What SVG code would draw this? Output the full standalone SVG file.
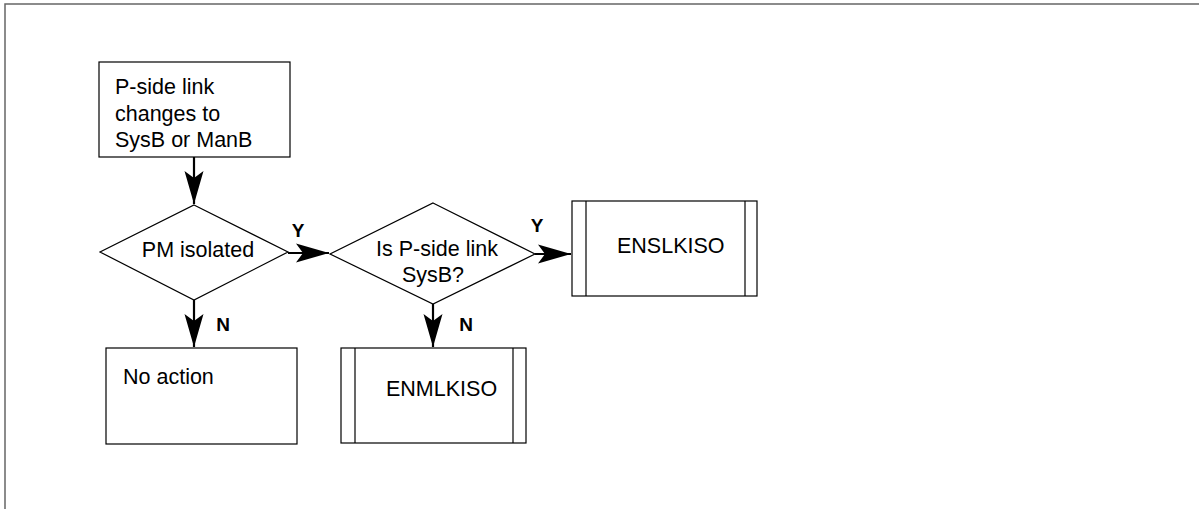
<svg xmlns="http://www.w3.org/2000/svg" width="1199" height="509" viewBox="0 0 1199 509">
<style>
  .box{fill:#fff;stroke:#000;stroke-width:1.2}
  .t{font-family:"Liberation Sans",Arial,sans-serif;font-size:21.5px;fill:#000}
  .lbl{font-family:"Liberation Sans",Arial,sans-serif;font-size:19px;font-weight:bold;fill:#000}
  .conn{stroke:#000;stroke-width:2.2;fill:none}
  .frame{stroke:#666;stroke-width:1.5;fill:none}
</style>
<defs>
  <marker id="ah" markerUnits="userSpaceOnUse" viewBox="-36 -11 38 22" refX="0" refY="0" markerWidth="38" markerHeight="22" orient="auto">
    <path d="M0,0 L-33,-9.5 L-26,0 L-33,9.5 Z" fill="#000"/>
  </marker>
</defs>
<rect width="1199" height="509" fill="#fff"/>
<path class="frame" d="M5,509 V4 H1199"/>
<g id="connectors">
  <path class="conn" d="M194,157 V204" marker-end="url(#ah)"/>
  <path class="conn" d="M288,253 H329" marker-end="url(#ah)"/>
  <path class="conn" d="M535,254 H571" marker-end="url(#ah)"/>
  <path class="conn" d="M194,300 V347" marker-end="url(#ah)"/>
  <path class="conn" d="M433,304 V347" marker-end="url(#ah)"/>
  <text class="lbl" x="298" y="237" text-anchor="middle">Y</text>
  <text class="lbl" x="537" y="232" text-anchor="middle">Y</text>
  <text class="lbl" x="223" y="331" text-anchor="middle">N</text>
  <text class="lbl" x="466" y="331" text-anchor="middle">N</text>
</g>
<g id="start">
  <rect class="box" x="99" y="62" width="191" height="95"/>
  <text class="t" x="115" y="94">P-side link</text>
  <text class="t" x="115" y="120.5">changes to</text>
  <text class="t" x="115" y="147">SysB or ManB</text>
</g>
<g id="pm-isolated">
  <polygon class="box" points="194,205 288,252 194,300 100,252"/>
  <text class="t" x="198" y="257" text-anchor="middle">PM isolated</text>
</g>
<g id="sysb">
  <polygon class="box" points="433,203 535,254 433,304 330,254"/>
  <text class="t" x="437" y="256" text-anchor="middle">Is P-side link</text>
  <text class="t" x="433" y="282" text-anchor="middle">SysB?</text>
</g>
<g id="enslkiso">
  <rect class="box" x="572" y="201" width="185" height="95"/>
  <line class="box" x1="586" y1="201" x2="586" y2="296"/>
  <line class="box" x1="745" y1="201" x2="745" y2="296"/>
  <text class="t" x="617" y="253">ENSLKISO</text>
</g>
<g id="no-action">
  <rect class="box" x="106" y="348" width="191" height="96"/>
  <text class="t" x="123" y="384">No action</text>
</g>
<g id="enmlkiso">
  <rect class="box" x="341" y="348" width="185" height="95"/>
  <line class="box" x1="355" y1="348" x2="355" y2="443"/>
  <line class="box" x1="513" y1="348" x2="513" y2="443"/>
  <text class="t" x="386" y="396">ENMLKISO</text>
</g>
</svg>
